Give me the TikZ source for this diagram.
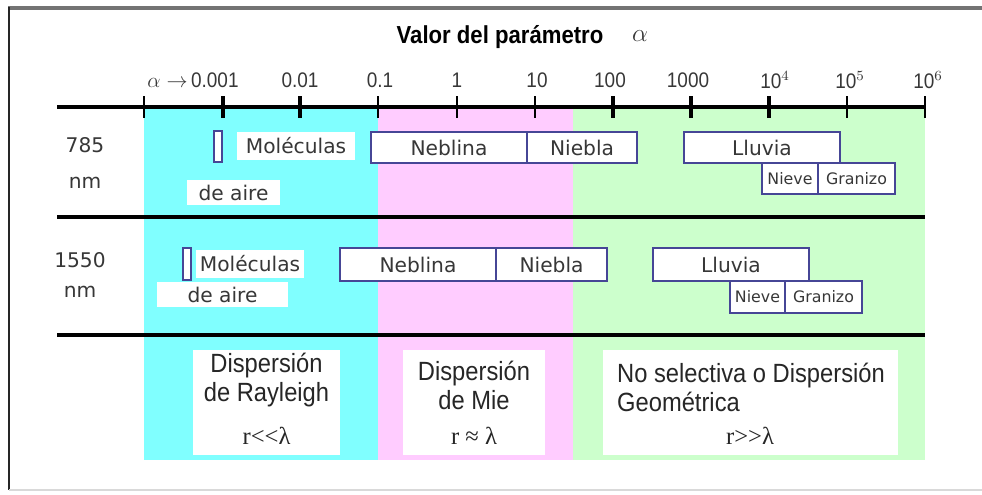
\documentclass[tikz,border=0pt]{standalone}
\usepackage{fontspec}
\setmainfont{Liberation Sans}
\newfontfamily\verd{DejaVu Sans}
\newfontfamily\narrowsans[FakeStretch=0.9]{Liberation Sans}
\newfontfamily\rfont{Liberation Serif}
\definecolor{bandcyan}{RGB}{128,255,255}
\definecolor{bandpink}{RGB}{255,204,255}
\definecolor{bandgreen}{RGB}{204,255,204}
\definecolor{boxblue}{RGB}{70,70,150}
\definecolor{txtgray}{RGB}{55,55,55}
\begin{document}
\begin{tikzpicture}[x=0.02cm,y=-0.02cm,
  rng/.style={draw=boxblue,line width=1.1pt,fill=white,inner sep=0pt,minimum height=0.62cm,text=txtgray,font={\verd\fontsize{11.5}{13}\selectfont}},
  smallrng/.style={rng,font={\verd\fontsize{9}{10}\selectfont}},
  tag/.style={fill=white,inner sep=0pt,text=txtgray,font={\verd\fontsize{11.5}{13}\selectfont}},
  wl/.style={text=txtgray,font={\verd\fontsize{11.5}{13}\selectfont}},
  ticklbl/.style={text=txtgray,font={\narrowsans\fontsize{12}{12}\selectfont}},
  regime/.style={fill=white,inner sep=0pt},
  regtxt/.style={text=black!85,align=center,font={\narrowsans\fontsize{15}{16.5}\selectfont}},
  reltxt/.style={text=black!85,font={\rfont\fontsize{14}{15}\selectfont}}]
\useasboundingbox (0,0) rectangle (982,494);

\draw[black!55,line width=2.4pt] (8,8) -- (982,8);
\draw[black!85,line width=1.5pt] (9,7) -- (9,490);
\draw[black!15,line width=0.6pt] (9,490) -- (982,490);

\fill[bandcyan] (144,108) rectangle (378,460);
\fill[bandpink] (378,108) rectangle (573,460);
\fill[bandgreen] (573,108) rectangle (925,460);

\path (500,37) node[font={\narrowsans\fontsize{14}{14}\selectfont\bfseries}] (title) {Valor del parámetro};
\path (640,36) node[text=txtgray,font={\fontsize{14}{14}\selectfont}] (titlealpha) {$\alpha$};

\draw[line width=2.3pt] (57,107) -- (925,107);
\foreach \x in {223,300,613,691,769}
  \draw[line width=2.4pt] (\x,96) -- (\x,118);
\foreach \x in {144,378,457,535,847,925}
  \draw[line width=1.2pt] (\x,96) -- (\x,118);

\path (193,80) node[ticklbl] (t0) {$\alpha\rightarrow$\,0.001};
\path (300,80) node[ticklbl] (t1) {0.01};
\path (380,80) node[ticklbl] (t2) {0.1};
\path (457,80) node[ticklbl] (t3) {1};
\path (537,80) node[ticklbl] (t4) {10};
\path (610,80) node[ticklbl] (t5) {100};
\path (688,80) node[ticklbl] (t6) {1000};
\path (775,80) node[ticklbl] (t7) {10$^{4}$};
\path (850,80) node[ticklbl] (t8) {10$^{5}$};
\path (928,80) node[ticklbl] (t9) {10$^{6}$};

\draw[line width=2.3pt] (57,217) -- (925,217);
\draw[line width=1.8pt] (57,335) -- (925,335);

\path (85,145) node[wl] (wa) {785};
\path (85,183) node[wl] (wanm) {nm};
\path (218,146.5) node[rng,minimum width=0.16cm] (marka) {};
\path (296,146) node[tag,minimum width=2.36cm,minimum height=0.56cm] (mola) {Moléculas};
\path (233.5,192.5) node[tag,minimum width=1.86cm,minimum height=0.5cm] (airea) {de aire};
\path (449,147.5) node[rng,minimum width=3.12cm] (nebla) {Neblina};
\path (582,147.5) node[rng,minimum width=2.2cm] (niea) {Niebla};
\path (762,147.5) node[rng,minimum width=3.12cm] (llua) {Lluvia};
\path (790,178.5) node[smallrng,minimum width=1.12cm] (neva) {Nieve};
\path (856.5,178.5) node[smallrng,minimum width=1.54cm] (graa) {Granizo};

\path (80,260) node[wl] (wb) {1550};
\path (80,292) node[wl] (wbnm) {nm};
\path (222.5,294.5) node[tag,minimum width=2.62cm,minimum height=0.5cm] (aireb) {de aire};
\path (187,264) node[rng,minimum width=0.16cm,minimum height=0.64cm] (markb) {};
\path (250,264) node[tag,minimum width=2.16cm,minimum height=0.56cm] (molb) {Moléculas};
\path (418,264.5) node[rng,minimum width=3.12cm,minimum height=0.66cm] (neblb) {Neblina};
\path (551.5,264.5) node[rng,minimum width=2.22cm,minimum height=0.66cm] (nieb) {Niebla};
\path (731,264.5) node[rng,minimum width=3.12cm,minimum height=0.66cm] (llub) {Lluvia};
\path (757.5,297) node[smallrng,minimum width=1.1cm,minimum height=0.64cm] (nevb) {Nieve};
\path (823.5,297) node[smallrng,minimum width=1.54cm,minimum height=0.64cm] (grab) {Granizo};

\path (266.5,402.5) node[regime,minimum width=2.94cm,minimum height=2.1cm] (ray) {};
\path (266.5,380) node[regtxt] (raytxt) {Dispersión\\de Rayleigh};
\path (266.5,436) node[reltxt] (rayrel) {r<<λ};

\path (474,402.5) node[regime,minimum width=2.84cm,minimum height=2.1cm] (mie) {};
\path (474,385) node[regtxt] (mietxt) {Dispersión\\de Mie};
\path (474,436) node[reltxt] (mierel) {r ≈ λ};

\path (750.5,402.5) node[regime,minimum width=5.9cm,minimum height=2.1cm] (geo) {};
\path (611,387) node[regtxt,align=left,anchor=west] (geotxt) {No selectiva o Dispersión\\Geométrica};
\path (750,436) node[reltxt] (georel) {r>>λ};
\end{tikzpicture}
\end{document}
